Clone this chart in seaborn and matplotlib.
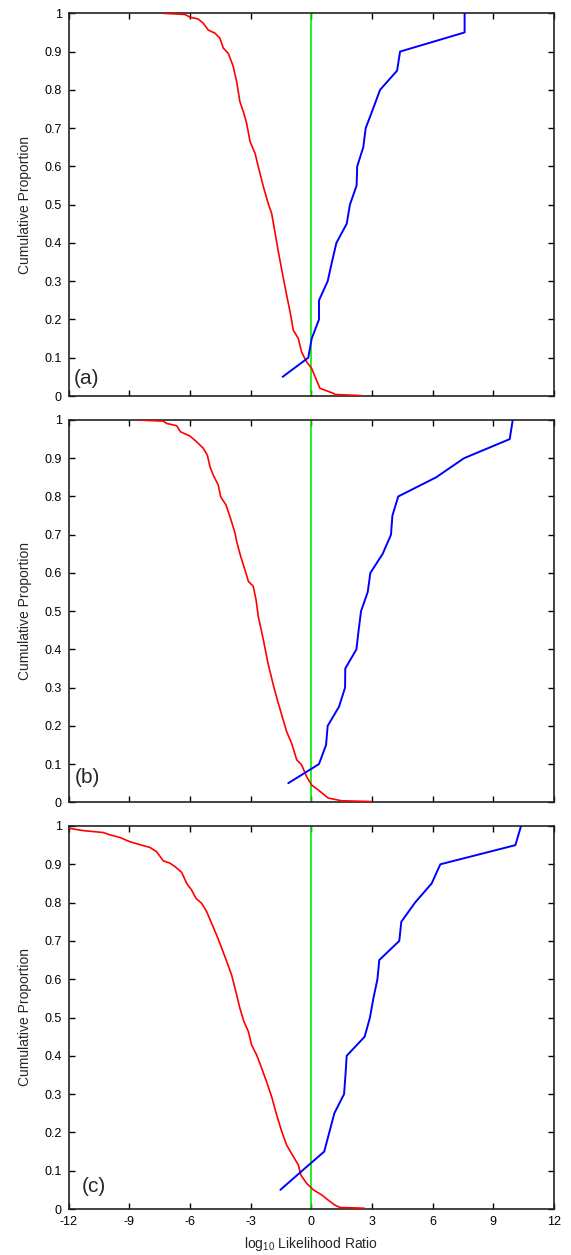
import matplotlib
matplotlib.use("Agg")
import matplotlib.pyplot as plt
import seaborn as sns
import numpy as np

# ---------------- data ----------------
prop_levels = [0.05, 0.10, 0.15, 0.20, 0.25, 0.30, 0.35, 0.40, 0.45, 0.50,
               0.55, 0.60, 0.65, 0.70, 0.75, 0.80, 0.85, 0.90, 0.95, 1.00]

blue_a_x = [-1.42, -0.15, 0.02, 0.38, 0.38, 0.81, 1.02, 1.24, 1.75, 1.91,
            2.24, 2.27, 2.57, 2.69, 3.05, 3.40, 4.24, 4.39, 7.58, 7.58]
blue_b_x = [-1.14, 0.38, 0.73, 0.81, 1.37, 1.67, 1.68, 2.23, 2.34, 2.46,
            2.79, 2.92, 3.53, 3.94, 4.01, 4.30, 6.17, 7.55, 9.81, 9.96]
blue_c_x = [-1.53, -0.45, 0.64, 0.89, 1.14, 1.62, 1.69, 1.75, 2.64, 2.90,
            3.07, 3.27, 3.36, 4.35, 4.45, 5.13, 5.95, 6.38, 10.09, 10.37]

red_a_x = [-7.35, -6.25, -6.00, -5.59, -5.34, -5.09, -4.76, -4.52, -4.35, -4.10,
           -3.86, -3.69, -3.53, -3.36, -3.20, -3.03, -2.78, -2.62, -2.37, -2.13,
           -1.96, -1.80, -1.63, -1.38, -1.22, -1.05, -0.89, -0.64, -0.48, -0.23,
           0.02, 0.18, 0.43, 1.09, 1.17, 2.46]
red_a_y = [1.000, 0.997, 0.990, 0.985, 0.974, 0.956, 0.948, 0.935, 0.909, 0.895,
           0.861, 0.821, 0.769, 0.743, 0.713, 0.665, 0.634, 0.599, 0.547, 0.503,
           0.477, 0.429, 0.377, 0.307, 0.264, 0.220, 0.172, 0.150, 0.115, 0.089,
           0.072, 0.051, 0.020, 0.007, 0.004, 0.001]

red_b_x = [-8.61, -7.32, -7.15, -6.66, -6.46, -6.00, -5.67, -5.34, -5.14, -5.01,
           -4.85, -4.60, -4.48, -4.22, -4.02, -3.77, -3.69, -3.49, -3.28, -3.11,
           -2.87, -2.73, -2.62, -2.37, -2.16, -1.88, -1.68, -1.46, -1.22, -0.97,
           -0.72, -0.48, -0.23, 0.02, 0.35, 0.84, 1.50, 2.95]
red_b_y = [1.000, 0.997, 0.991, 0.985, 0.969, 0.958, 0.943, 0.926, 0.908, 0.878,
           0.856, 0.830, 0.799, 0.778, 0.747, 0.704, 0.682, 0.643, 0.608, 0.578,
           0.565, 0.529, 0.486, 0.425, 0.368, 0.307, 0.268, 0.228, 0.185, 0.154,
           0.111, 0.098, 0.067, 0.045, 0.032, 0.011, 0.004, 0.002]

red_c_x = [-12.30, -11.97, -11.28, -10.29, -9.96, -9.46, -8.97, -8.39, -7.98, -7.65,
           -7.32, -6.99, -6.74, -6.41, -6.16, -5.92, -5.70, -5.42, -5.17, -4.93,
           -4.68, -4.43, -4.18, -3.94, -3.77, -3.53, -3.33, -3.11, -2.95, -2.70,
           -2.45, -2.21, -1.96, -1.71, -1.46, -1.22, -0.89, -0.64, -0.52, -0.23,
           0.10, 0.51, 0.84, 1.17, 1.42, 2.62]
red_c_y = [0.996, 0.994, 0.988, 0.983, 0.977, 0.970, 0.959, 0.950, 0.944, 0.933,
           0.909, 0.903, 0.894, 0.879, 0.850, 0.833, 0.811, 0.798, 0.776, 0.746,
           0.715, 0.681, 0.646, 0.611, 0.576, 0.524, 0.489, 0.463, 0.428, 0.402,
           0.367, 0.332, 0.293, 0.245, 0.202, 0.167, 0.137, 0.115, 0.089, 0.067,
           0.050, 0.037, 0.023, 0.010, 0.004, 0.002]

panel_labels = ["(a)", "(b)", "(c)"]
x_ticks = [-12, -9, -6, -3, 0, 3, 6, 9, 12]
y_ticks = [0, 0.1, 0.2, 0.3, 0.4, 0.5, 0.6, 0.7, 0.8, 0.9, 1.0]
y_tick_labels = ["0", "0.1", "0.2", "0.3", "0.4", "0.5", "0.6", "0.7", "0.8", "0.9", "1"]
x_tick_labels = ["-12", "-9", "-6", "-3", "0", "3", "6", "9", "12"]

# ---------------- style ----------------
sns.set_style("ticks")
plt.rcParams["font.family"] = ["Liberation Sans", "DejaVu Sans"]
plt.rcParams["mathtext.fontset"] = "custom"
plt.rcParams["mathtext.rm"] = "Liberation Sans"

W, H = 571, 1255
fig = plt.figure(figsize=(W / 100, H / 100), dpi=100)
fig.patch.set_facecolor("white")

left_px, right_px = 68.6, 554.0
panels_px = [(13.3, 396.0), (420.0, 802.3), (826.0, 1209.0)]
label_pos = [(0.010, 0.047), (0.012, 0.066), (0.027, 0.059)]

reds = [(red_a_x, red_a_y), (red_b_x, red_b_y), (red_c_x, red_c_y)]
blues = [blue_a_x, blue_b_x, blue_c_x]

for i, (top, bot) in enumerate(panels_px):
    ax = fig.add_axes([left_px / W, 1 - bot / H, (right_px - left_px) / W, (bot - top) / H])
    ax.set_facecolor("white")
    ax.axvline(0, color="#00ee00", lw=1.2, zorder=1)
    rx, ry = reds[i]
    sns.lineplot(x=rx, y=ry, sort=False, estimator=None, color="#ff0000",
                 lw=1.2, ax=ax, zorder=3)
    sns.lineplot(x=blues[i], y=prop_levels, sort=False, estimator=None,
                 color="#0000ff", lw=1.4, ax=ax, zorder=4)
    ax.set_xlim(-12, 12)
    ax.set_ylim(0, 1)
    ax.set_yticks(y_ticks)
    ax.set_yticklabels(y_tick_labels)
    ax.set_xticks(x_ticks)
    if i == 2:
        ax.set_xticklabels(x_tick_labels)
        ax.set_xlabel(r"log$_{\mathregular{10}}$ Likelihood Ratio", fontsize=10, labelpad=5)
    else:
        ax.set_xticklabels([])
        ax.set_xlabel("")
    ax.tick_params(axis="both", which="both", direction="in", length=4, width=1.0,
                   top=True, right=True, labelsize=9, colors="black", pad=5)
    for s in ax.spines.values():
        s.set_visible(True)
        s.set_color("#222222")
        s.set_linewidth(1.2)
    ax.set_ylabel("Cumulative Proportion", fontsize=10)
    ax.yaxis.set_label_coords(-0.075, 0.5)
    ax.text(label_pos[i][0], label_pos[i][1], panel_labels[i], transform=ax.transAxes,
            fontsize=15, ha="left", va="center")
    if ax.get_legend() is not None:
        ax.get_legend().remove()

fig.savefig("out.png", dpi=100, facecolor="white")
